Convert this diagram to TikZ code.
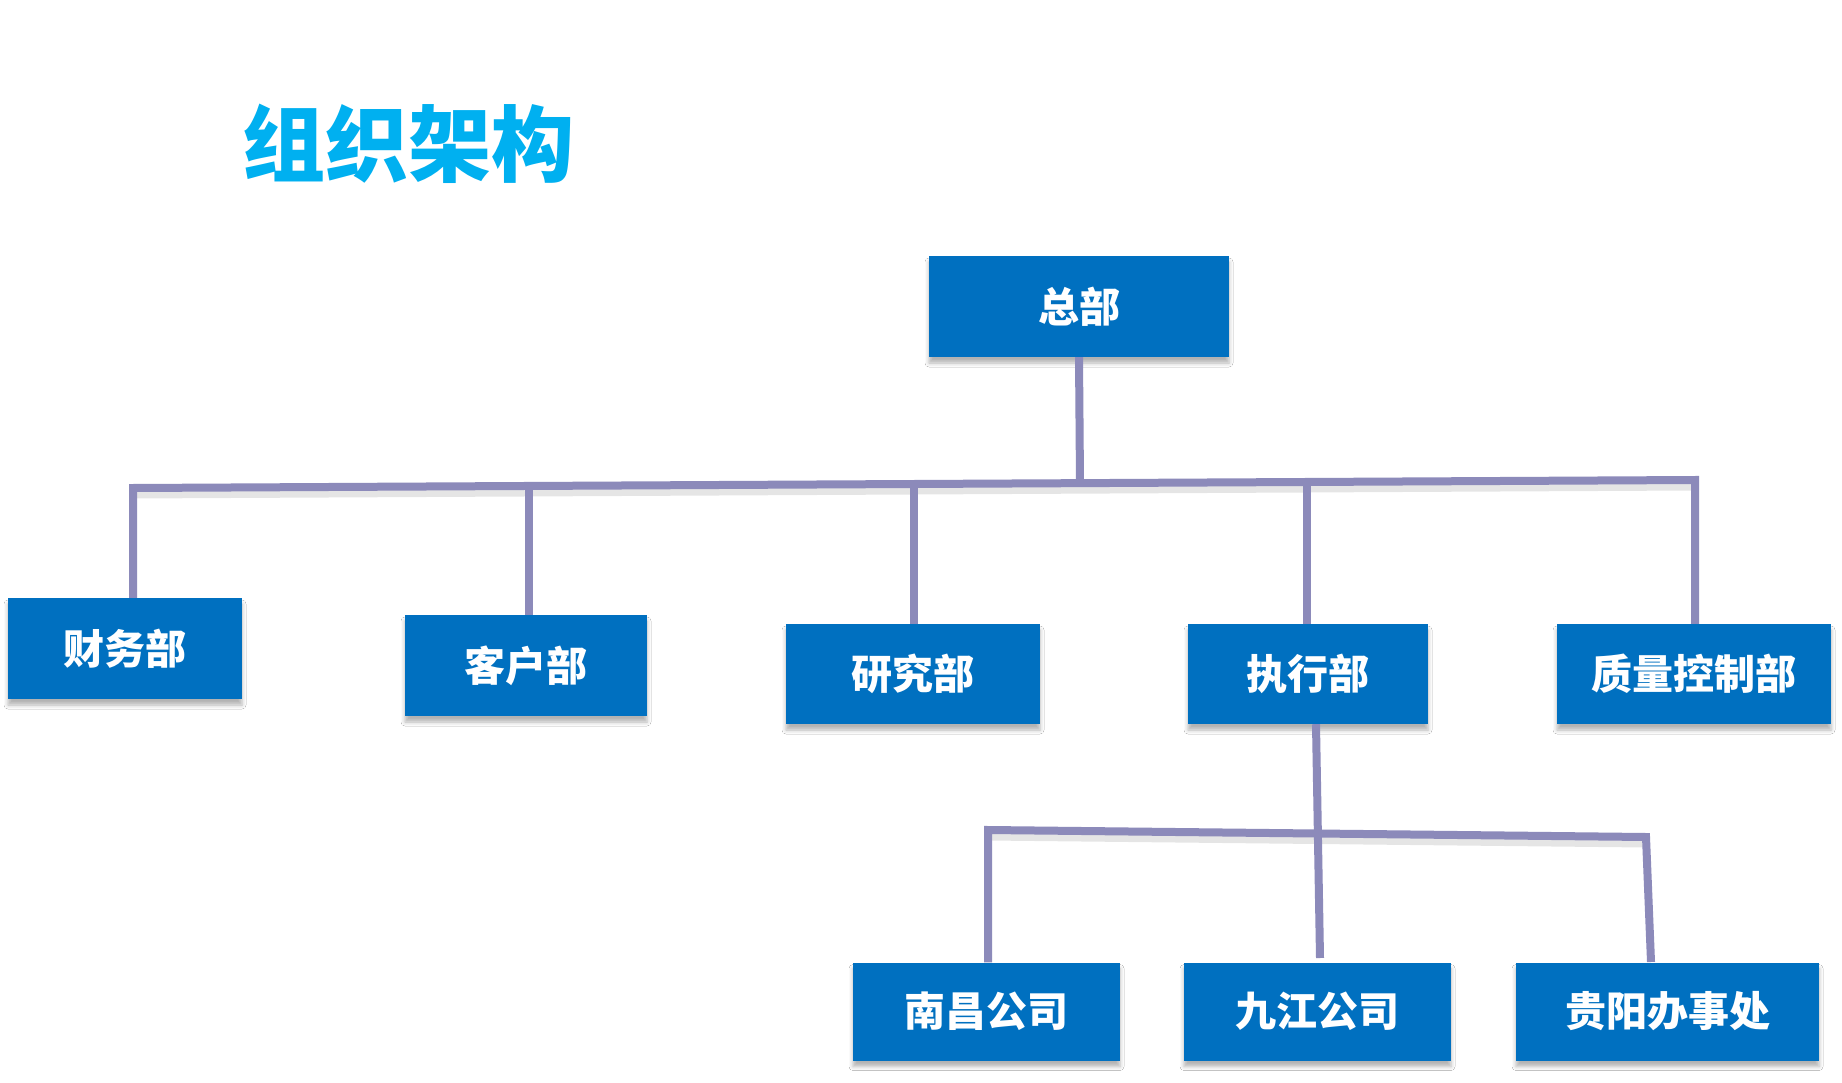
\documentclass[tikz,border=0pt]{standalone}
\usepackage{fontspec}
\newfontfamily\cjk{Noto Sans CJK SC}
\usetikzlibrary{shadows.blur}
\definecolor{boxblue}{HTML}{0070C0}
\definecolor{titlecyan}{HTML}{00B0F0}
\definecolor{linepurple}{RGB}{140,138,186}
\tikzset{
  orgbox/.style={rectangle, fill=boxblue, draw=none, inner sep=0pt,
    minimum height=100pt, text=white, font=\cjk\bfseries\fontsize{41}{41}\selectfont,
    blur shadow={shadow xshift=0pt, shadow yshift=-6pt, shadow blur radius=4pt, shadow opacity=30}},
  conn/.style={draw=linepurple, line width=8pt, line join=miter},
  connshadow/.style={draw=black, opacity=0.1, line width=9pt},
}
\begin{document}
\begin{tikzpicture}[x=1pt,y=-1pt]
\path[use as bounding box, fill=white] (0,0) rectangle (1842,1083);

% title
\node[anchor=base, text=titlecyan, font=\cjk\bfseries\fontsize{83}{83}\selectfont, inner sep=0pt] (title) at (408,176) {组织架构};

% boxes
\node[orgbox, minimum width=300pt, minimum height=101pt] (zb) at (1079,306.5) {总部};
\node[orgbox, minimum width=234pt, minimum height=101pt] (cw) at (125,648.5) {财务部};
\node[orgbox, minimum width=242pt, minimum height=101pt] (kh) at (526,665.5) {客户部};
\node[orgbox, minimum width=254pt] (yj) at (913,674) {研究部};
\node[orgbox, minimum width=240pt] (zx) at (1308,674) {执行部};
\node[orgbox, minimum width=274pt] (zl) at (1694,674) {质量控制部};
\node[orgbox, minimum width=267pt, minimum height=98pt] (nc) at (986.5,1011.5) {南昌公司};
\node[orgbox, minimum width=267pt, minimum height=98pt] (jj) at (1317.5,1011.5) {九江公司};
\node[orgbox, minimum width=303pt, minimum height=98pt] (gy) at (1667.5,1011.5) {贵阳办事处};

% bus coordinates
\coordinate (busL) at (133,488);
\coordinate (busR) at (1695,480);
\coordinate (j0) at (1080,483);
\coordinate (j2) at (529,486);
\coordinate (j3) at (914,484);
\coordinate (j4) at (1307,482);
\coordinate (zxEnd) at (1320,958);
\coordinate (bus2L) at (988,830);
\coordinate (bus2R) at (1646,837);
\coordinate (gyTop) at (1651,962);

% line shadows
\path[connshadow] ([yshift=-6pt]busL) -- ([yshift=-6pt]busR);
\path[connshadow] ([yshift=-6pt]bus2L) -- ([yshift=-6pt]bus2R);

% connectors
\path[conn] (zb.south) -- (j0);
\path[conn] (busL |- cw.north) -- (busL) -- (busR) -- (busR |- zl.north);
\path[conn] (j2) -- (j2 |- kh.north);
\path[conn] (j3) -- (j3 |- yj.north);
\path[conn] (j4) -- (j4 |- zx.north);
\path[conn] ([xshift=8pt]zx.south) -- (zxEnd);
\path[conn] (bus2L |- nc.north) -- (bus2L) -- (bus2R) -- (gyTop);
\end{tikzpicture}
\end{document}
